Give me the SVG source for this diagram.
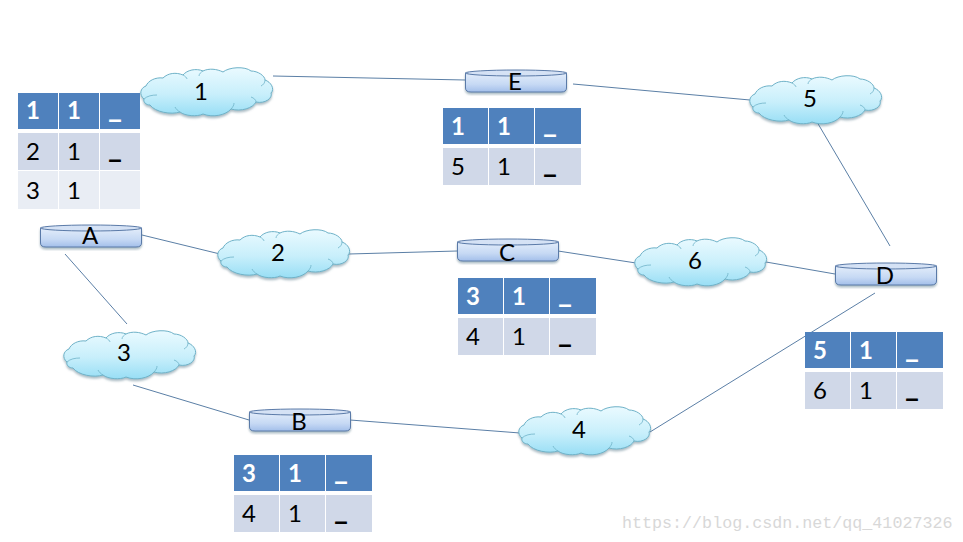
<svg xmlns="http://www.w3.org/2000/svg" width="963" height="542" viewBox="0 0 963 542">
<style>
.t{font-family:Lato,"Liberation Sans",sans-serif;font-size:24px;text-anchor:middle;fill:#000}
.w{fill:#fff;font-weight:700}
.u{font-weight:700;font-size:30px}
.h{fill:#4f81bd}.a{fill:#d0d8e8}.b{fill:#e9edf4}
.l{stroke:#5b7fa6;stroke-width:1;fill:none}
.cl{fill:url(#cg);stroke:#6fb2c8;stroke-width:1}
.cr{fill:none;stroke:#6fb2c8;stroke-width:.8}
.r{fill:url(#rg);stroke:#5a7aa8;stroke-width:1}
.rt{fill:#d5e2f5;stroke:#5a7aa8;stroke-width:1}
.wm{font-family:"Liberation Mono","DejaVu Sans Mono",monospace;font-size:16.7px;fill:#d8d8d8}
</style>
<defs>
<linearGradient id="cg" x1="0" y1="0" x2="0" y2="1"><stop offset="0" stop-color="#eafaff"/><stop offset=".55" stop-color="#c8effb"/><stop offset="1" stop-color="#98def5"/></linearGradient>
<linearGradient id="rg" x1="0" y1="0" x2="0" y2="1"><stop offset="0" stop-color="#e3edfa"/><stop offset=".6" stop-color="#c6d9f4"/><stop offset="1" stop-color="#a3bfea"/></linearGradient>
<filter id="s" x="-5%" y="-10%" width="110%" height="130%"><feDropShadow dx="0" dy="2" stdDeviation="1.200" flood-color="#5a7a8a" flood-opacity=".5"/></filter>
<g id="cloud">
<path class="cl" filter="url(#s)" d="M3 31C-2 27 -1 20 5 18C7 13 14 9 22 10C27 5 35 4 42 7C46 2 55 0 62 3C68 0 76 1 82 4C88 -1 104 -2 110 3C117 3 124 8 124 12C130 14 134 21 130 25C132 30 124 36 115 34C112 40 100 44 90 41C85 47 72 50 62 46C56 49 44 48 39 44C30 47 14 44 9 37C5 37 2 34 3 31Z"/>
<path class="cr" d="M3 31C6 28 11 27 16 27M39 44C37 43 35 41 34 39M90 41C92 39 93 37 93 35M115 34C115 32 113 30 110 29M124 12C124 15 122 17 120 18M62 3C60 4 58 6 58 8M42 7C44 8 46 10 46 11"/>
</g>
<g id="router">
<path class="r" filter="url(#s)" d="M0.500 4V19Q0.500 23 6 23H96Q101.500 23 101.500 19V4Z"/>
<ellipse class="rt" cx="51" cy="4" rx="50.500" ry="3"/>
</g>
</defs>
<rect width="963" height="542" fill="#fff"/>
<g id="connectors">
<path class="l" d="M273 76L465 80"/>
<path class="l" d="M573 84L750 100"/>
<path class="l" d="M817 122L890 246"/>
<path class="l" d="M142 235L220 254"/>
<path class="l" d="M349 254L457 251"/>
<path class="l" d="M558 251L636 263"/>
<path class="l" d="M766 262L835 274"/>
<path class="l" d="M65 254L127 324"/>
<path class="l" d="M133 385L249 420"/>
<path class="l" d="M350 420L520 433"/>
<path class="l" d="M650 432L875 293"/>
</g>
<g id="cloud-1"><use href="#cloud" x="141" y="68"/><text class="t" x="201" y="100">1</text></g>
<g id="cloud-2"><use href="#cloud" x="218" y="230"/><text class="t" x="278" y="261">2</text></g>
<g id="cloud-3"><use href="#cloud" x="64" y="331"/><text class="t" x="124" y="361">3</text></g>
<g id="cloud-4"><use href="#cloud" x="519" y="407"/><text class="t" x="579" y="438">4</text></g>
<g id="cloud-5"><use href="#cloud" x="750" y="76"/><text class="t" x="810" y="107">5</text></g>
<g id="cloud-6"><use href="#cloud" x="635" y="238"/><text class="t" x="695" y="269">6</text></g>
<g id="router-A"><use href="#router" x="40" y="224"/><text class="t" x="90" y="244">A</text></g>
<g id="router-B"><use href="#router" x="249" y="408"/><text class="t" x="299" y="430">B</text></g>
<g id="router-C"><use href="#router" x="457" y="238"/><text class="t" x="507" y="261">C</text></g>
<g id="router-D"><use href="#router" x="835" y="262"/><text class="t" x="885" y="284">D</text></g>
<g id="router-E"><use href="#router" x="465" y="69"/><text class="t" x="515" y="90">E</text></g>
<g id="table-A">
<rect class="h" x="18" y="93" width="40" height="36"/><rect class="h" x="59" y="93" width="40" height="36"/><rect class="h" x="100" y="93" width="40" height="36"/>
<rect class="a" x="18" y="133" width="40" height="37"/><rect class="a" x="59" y="133" width="40" height="37"/><rect class="a" x="100" y="133" width="40" height="37"/>
<rect class="b" x="18" y="171" width="40" height="38"/><rect class="b" x="59" y="171" width="40" height="38"/><rect class="b" x="100" y="171" width="40" height="38"/>
<text class="t w" x="33" y="119">1</text><text class="t w" x="74" y="119">1</text><text class="t w u" x="115" y="117">_</text>
<text class="t" x="33" y="160">2</text><text class="t" x="74" y="160">1</text><text class="t u" x="115" y="157">_</text>
<text class="t" x="33" y="199">3</text><text class="t" x="74" y="199">1</text>
</g>
<g id="table-E">
<rect class="h" x="443" y="108" width="45" height="36"/><rect class="h" x="489" y="108" width="45" height="36"/><rect class="h" x="535" y="108" width="46" height="36"/>
<rect class="a" x="443" y="148" width="45" height="37"/><rect class="a" x="489" y="148" width="45" height="37"/><rect class="a" x="535" y="148" width="46" height="37"/>
<text class="t w" x="458" y="135">1</text><text class="t w" x="504" y="135">1</text><text class="t w u" x="550" y="132">_</text>
<text class="t" x="458" y="175">5</text><text class="t" x="504" y="175">1</text><text class="t u" x="550" y="172">_</text>
</g>
<g id="table-C">
<rect class="h" x="458" y="278" width="45" height="36"/><rect class="h" x="504" y="278" width="45" height="36"/><rect class="h" x="550" y="278" width="46" height="36"/>
<rect class="a" x="458" y="318" width="45" height="37"/><rect class="a" x="504" y="318" width="45" height="37"/><rect class="a" x="550" y="318" width="46" height="37"/>
<text class="t w" x="473" y="305">3</text><text class="t w" x="519" y="305">1</text><text class="t w u" x="565" y="302">_</text>
<text class="t" x="473" y="345">4</text><text class="t" x="519" y="345">1</text><text class="t u" x="565" y="342">_</text>
</g>
<g id="table-D">
<rect class="h" x="805" y="332" width="45" height="36"/><rect class="h" x="851" y="332" width="45" height="36"/><rect class="h" x="897" y="332" width="46" height="36"/>
<rect class="a" x="805" y="372" width="45" height="37"/><rect class="a" x="851" y="372" width="45" height="37"/><rect class="a" x="897" y="372" width="46" height="37"/>
<text class="t w" x="820" y="359">5</text><text class="t w" x="866" y="359">1</text><text class="t w u" x="912" y="357">_</text>
<text class="t" x="820" y="399">6</text><text class="t" x="866" y="399">1</text><text class="t u" x="912" y="396">_</text>
</g>
<g id="table-B">
<rect class="h" x="234" y="455" width="45" height="36"/><rect class="h" x="280" y="455" width="45" height="36"/><rect class="h" x="326" y="455" width="46" height="36"/>
<rect class="a" x="234" y="495" width="45" height="37"/><rect class="a" x="280" y="495" width="45" height="37"/><rect class="a" x="326" y="495" width="46" height="37"/>
<text class="t w" x="249" y="482">3</text><text class="t w" x="295" y="482">1</text><text class="t w u" x="341" y="479">_</text>
<text class="t" x="249" y="522">4</text><text class="t" x="295" y="522">1</text><text class="t u" x="341" y="519">_</text>
</g>
<text class="wm" x="622" y="528">https://blog.csdn.net/qq_41027326</text>
</svg>
